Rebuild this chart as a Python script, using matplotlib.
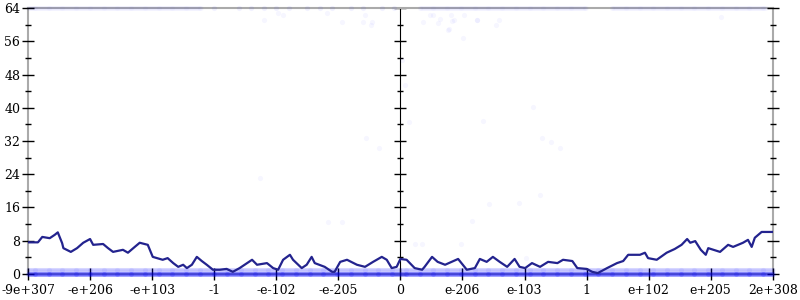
import numpy as np
import matplotlib.pyplot as plt

# x axis is the float ordering, one unit per labelled tick
tick_pos = [-6, -5, -4, -3, -2, -1, 0, 1, 2, 3, 4, 5, 6]
tick_labels = ['-9e+307', '-e+206', '-e+103', '-1', '-e-102', '-e-205', '0',
               'e-206', 'e-103', '1', 'e+102', 'e+205', '2e+308']

# average error line (bits)
avg_x = [-6.0, -5.84, -5.77, -5.65, -5.57, -5.52, -5.45, -5.43, -5.31, -5.21,
         -5.11, -5.00, -4.95, -4.79, -4.71, -4.63, -4.47, -4.39, -4.28, -4.20,
         -4.07, -3.99, -3.83, -3.75, -3.66, -3.58, -3.50, -3.44, -3.36, -3.28,
         -3.20, -3.12, -3.02, -2.91, -2.80, -2.70, -2.59, -2.47, -2.39, -2.31,
         -2.15, -2.05, -1.97, -1.89, -1.78, -1.73, -1.59, -1.51, -1.43, -1.38,
         -1.22, -1.10, -1.06, -0.97, -0.86, -0.70, -0.57, -0.44, -0.30, -0.22,
         -0.14, -0.06, 0.0, 0.10, 0.23, 0.35, 0.39, 0.51, 0.60, 0.72,
         0.93, 1.07, 1.20, 1.28, 1.39, 1.49, 1.60, 1.72, 1.84, 1.92,
         2.01, 2.12, 2.25, 2.38, 2.53, 2.62, 2.77, 2.85, 3.00, 3.09,
         3.18, 3.33, 3.49, 3.59, 3.67, 3.86, 3.94, 3.99, 4.13, 4.29,
         4.42, 4.53, 4.62, 4.67, 4.75, 4.84, 4.92, 4.96, 5.15, 5.28,
         5.36, 5.52, 5.60, 5.66, 5.71, 5.82, 6.0]
avg_y = [7.6, 7.6, 8.9, 8.6, 9.4, 10.0, 7.4, 6.2, 5.3, 6.2,
         7.5, 8.4, 7.0, 7.2, 6.2, 5.3, 5.8, 5.1, 6.5, 7.5,
         7.0, 4.1, 3.4, 3.8, 2.6, 1.7, 2.2, 1.4, 2.2, 4.1,
         3.1, 2.2, 1.0, 1.0, 1.2, 0.5, 1.4, 2.6, 3.4, 2.2,
         2.6, 1.4, 1.0, 3.4, 4.6, 3.4, 1.4, 2.2, 4.1, 2.6,
         1.7, 0.5, 0.5, 2.9, 3.4, 2.2, 1.7, 2.9, 4.1, 3.4,
         1.4, 1.7, 3.6, 3.4, 1.4, 1.0, 1.7, 4.1, 2.9, 2.2,
         3.6, 1.0, 1.4, 3.6, 2.9, 4.1, 2.9, 1.7, 3.6, 1.7,
         1.4, 2.6, 1.7, 2.9, 2.6, 3.4, 3.1, 1.4, 1.2, 0.5,
         0.2, 1.4, 2.6, 3.1, 4.6, 4.6, 5.1, 3.8, 3.4, 5.1,
         6.0, 7.0, 8.4, 7.5, 7.9, 5.8, 4.6, 6.2, 5.3, 7.0,
         6.5, 7.5, 8.2, 6.5, 8.7, 10.1, 10.1]

# sample inputs (x positions of the individual points)
sample_x = np.linspace(-6, 6, 800)

# x ranges where samples hit the full 64 bits of error
top_spans = [(-6.0, -3.2), (0.3, 3.0), (3.4, 5.9)]
top_sparse_x = [-3.0, -2.6, -2.4, -2.2, -2.0, -1.8, -1.5, -1.3, -1.1, -0.8, -0.6, -0.3, -0.1]

# scattered samples with intermediate error
mid_x = [-2.2, -1.98, -1.89, -1.19, -0.94, -0.61, -0.57, -0.48, -0.46, 0.03,
         0.07, 0.14, 0.24, 0.35, 0.37, 0.48, 0.52, 0.61, 0.63, 0.77,
         0.79, 0.82, 0.83, 0.86, 0.97, 1.01, 1.03, 1.15, 1.23, 1.24, 1.33,
         1.42, 1.54, 1.59, 1.91, 2.02, 2.13, 2.25, 2.28, 2.42, 2.57, 5.16,
         -2.27, -1.17, -0.94, -0.56, -0.35]
mid_y = [61.1, 62.8, 62.3, 62.8, 60.6, 60.6, 62.3, 59.9, 60.6, 51.5,
         45.5, 36.6, 7.2, 7.2, 60.6, 62.3, 62.3, 60.4, 61.4, 58.7,
         58.9, 62.3, 60.9, 61.1, 7.2, 56.8, 62.3, 12.8, 61.1, 61.1, 36.8,
         16.8, 59.9, 61.1, 17.1, 3.8, 40.2, 19.0, 32.7, 31.8, 30.3, 61.8,
         23.1, 12.5, 12.5, 32.7, 30.3]

fig = plt.figure(figsize=(8, 3), dpi=100)
ax = fig.add_axes([0.035, 0.087, 0.931, 0.886])

pt_color = '#0000ff'
ax.scatter(sample_x, np.zeros(len(sample_x)), s=12, color=pt_color, alpha=0.17,
           linewidths=0, clip_on=False, zorder=4)
ax.scatter(sample_x, np.ones(len(sample_x)), s=14, color=pt_color, alpha=0.05,
           linewidths=0, clip_on=False, zorder=4)
for a, b in top_spans:
    xs = sample_x[(sample_x >= a) & (sample_x <= b)]
    ax.scatter(xs, np.full(len(xs), 64), s=14, color=pt_color, alpha=0.015,
               linewidths=0, clip_on=False, zorder=4)
ax.scatter(top_sparse_x, [64] * len(top_sparse_x), s=14, color=pt_color, alpha=0.05,
           linewidths=0, clip_on=False, zorder=4)
ax.scatter(mid_x, mid_y, s=14, color=pt_color, alpha=0.035, linewidths=0,
           clip_on=False, zorder=4)

ax.plot(avg_x, avg_y, color='#23238e', linewidth=1.6, zorder=5)

ax.set_xlim(-6, 6)
ax.set_ylim(0, 64)
ax.set_xticks(tick_pos)
ax.set_xticklabels(tick_labels)
ax.set_yticks(np.arange(0, 65, 8))
ax.set_yticks(np.arange(4, 64, 8), minor=True)

for side in ['left', 'right', 'top', 'bottom']:
    ax.spines[side].set_color('#aaaaaa')
    ax.spines[side].set_linewidth(1.5)
    ax.spines[side].set_zorder(1)

ax.tick_params(axis='y', which='both', direction='inout', right=True, color='black', width=1)
ax.tick_params(axis='y', which='major', length=9, labelsize=9, pad=1)
ax.tick_params(axis='y', which='minor', length=5)
ax.tick_params(axis='x', direction='inout', length=8, width=1, labelsize=9, pad=3)
for lab in ax.get_xticklabels() + ax.get_yticklabels():
    lab.set_family('DejaVu Serif')

# middle axis at x = 0
mid = ax.secondary_yaxis(0.5)
mid.spines['left'].set_color('#aaaaaa')
mid.spines['left'].set_linewidth(1.5)
mid.set_yticks(np.arange(0, 65, 8))
mid.set_yticks(np.arange(4, 64, 8), minor=True)
mid.set_yticklabels([])
mid.tick_params(which='both', direction='inout', labelleft=False, labelright=False, width=1)
mid.tick_params(which='major', length=9)
mid.tick_params(which='minor', length=5)

fig.savefig('out.png', dpi=100)
